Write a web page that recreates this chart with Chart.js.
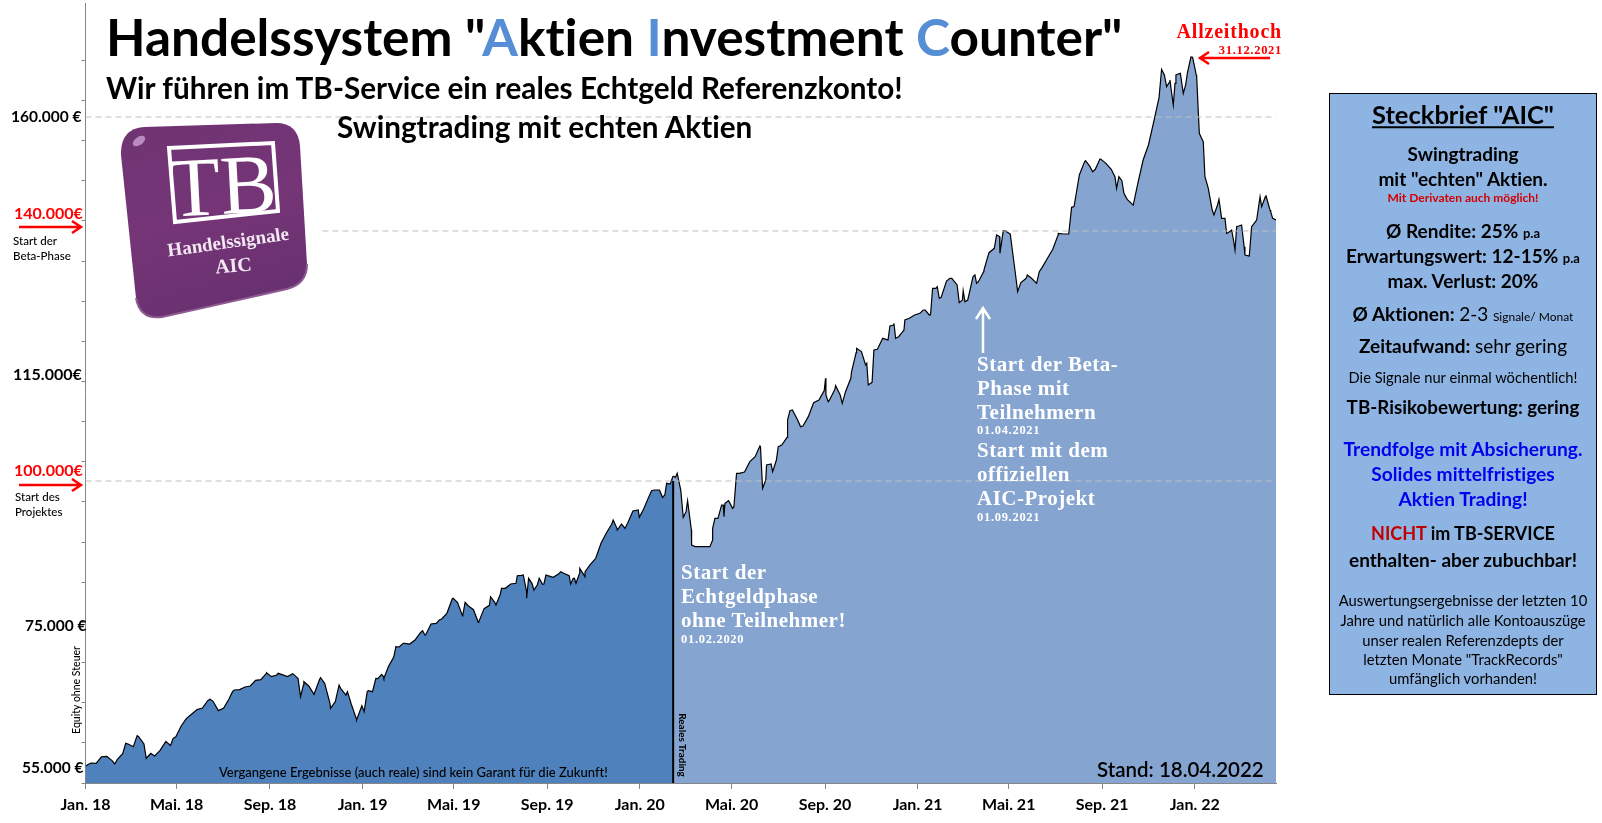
<!DOCTYPE html>
<html lang="de">
<head>
<meta charset="utf-8">
<title>Handelssystem AIC</title>
<script src="https://cdn.jsdelivr.net/npm/chart.js@4"></script>
<style>
  html, body { margin: 0; padding: 0; background: #fff; overflow: hidden; }
  #wrap { position: relative; width: 1602px; height: 823px; font-family: Lato, sans-serif; color: #000; font-variant-ligatures: none; }
  #chart { position: absolute; left: 0; top: 0; }
  .t { position: absolute; white-space: nowrap; transform: translateY(-50%); line-height: 1; }
  .b { font-weight: 700; }
  .c { transform: translate(-50%, -50%); left: 1463px; }
  .s { font-family: "Liberation Serif", serif; font-weight: 700; color: #fff; font-size: 21px; letter-spacing: 0.5px; }
  .d { font-size: 12.5px; letter-spacing: 0.7px; }
  .blue { color: #558ED5; }
  .red { color: #ff0000; }
  #panel { position: absolute; left: 1329px; top: 93px; width: 266px; height: 600px; background: #8EB4E3; border: 1.5px solid #000; }
  svg { position: absolute; left: 0; top: 0; }
</style>
</head>
<body>
<div id="wrap">
  <canvas id="chart" width="1602" height="823"></canvas>

  <!-- logo -->
  <svg width="1602" height="823" style="pointer-events:none">
    <defs>
      <linearGradient id="lg" x1="0" y1="0" x2="0.3" y2="1">
        <stop offset="0" stop-color="#6F3472"/>
        <stop offset="0.55" stop-color="#753577"/>
        <stop offset="1" stop-color="#6A3170"/>
      </linearGradient>
    </defs>
    <path d="M144 127 L276 123 Q298 123 300 146 L307 264 Q307 284 287 289 L162 317 Q140 320 136 298 L121 155 Q120 129 144 127 Z" fill="url(#lg)"/>
    <path d="M136 298 Q140 320 162 317 L287 289 Q307 284 307 264" fill="none" stroke="#8E5A92" stroke-width="2"/>
    <ellipse cx="139" cy="141" rx="7" ry="4" fill="#B98BC0" transform="rotate(-35 139 141)"/>
    <path d="M169 148 L273 143 L278 211 L175 222 Z" fill="none" stroke="#fff" stroke-width="4"/>
    <text x="224" y="214" text-anchor="middle" font-family="Liberation Serif" font-size="84" fill="#fff" transform="rotate(-3 224 214)">TB</text>
    <text x="229" y="248" text-anchor="middle" font-family="Liberation Serif" font-weight="700" font-size="19" fill="#F2E8F2" transform="rotate(-8 229 248)">Handelssignale</text>
    <text x="234" y="272" text-anchor="middle" font-family="Liberation Serif" font-weight="700" font-size="20" fill="#F2E8F2" transform="rotate(-5 234 272)">AIC</text>
    <!-- annotation arrows -->
    <g stroke="#ff0000" stroke-width="2.5" fill="none">
      <path d="M19 227 H80 M72 221 L81 227 L72 233"/>
      <path d="M19 485 H80 M72 479 L81 485 L72 491"/>
      <path d="M1270 58 H1201 M1209 52 L1200 58 L1209 64"/>
    </g>
    <path d="M983 353 V308 M976 319 L983 308 L990 319" stroke="#fff" stroke-width="2.5" fill="none"/>
  </svg>

  <!-- headline -->
  <div class="t b" style="left:106px;top:37px;font-size:51.4px">Handelssystem "<span class="blue">A</span>ktien <span class="blue">I</span>nvestment <span class="blue">C</span>ounter"</div>
  <div class="t b" style="left:106px;top:88px;font-size:29.7px">Wir führen im TB-Service ein reales Echtgeld Referenzkonto!</div>
  <div class="t b" style="left:337px;top:127px;font-size:29.7px">Swingtrading mit echten Aktien</div>

  <!-- value labels at the axis -->
  <div class="t b" style="left:11px;top:117px;font-size:15.5px">160.000 €</div>
  <div class="t b red" style="left:14px;top:213px;font-size:16px">140.000€</div>
  <div class="t" style="left:13px;top:241px;font-size:11.5px;font-weight:500">Start der</div>
  <div class="t" style="left:13px;top:256px;font-size:11.5px;font-weight:500">Beta-Phase</div>
  <div class="t b" style="left:13px;top:374px;font-size:16px">115.000€</div>
  <div class="t b red" style="left:14px;top:470px;font-size:16px">100.000€</div>
  <div class="t" style="left:15px;top:497px;font-size:11.5px;font-weight:500">Start des</div>
  <div class="t" style="left:15px;top:512px;font-size:11.5px;font-weight:500">Projektes</div>
  <div class="t b" style="left:25px;top:626px;font-size:15.5px">75.000 €</div>
  <div class="t b" style="left:22px;top:768px;font-size:15.5px">55.000 €</div>
  <div class="t" style="left:76px;top:690px;font-size:10.5px;font-weight:500;transform:translate(-50%,-50%) rotate(-90deg)">Equity ohne Steuer</div>

  <!-- texts inside the area -->
  <div class="t" style="left:219px;top:772px;font-size:13px;font-weight:500">Vergangene Ergebnisse (auch reale) sind kein Garant für die Zukunft!</div>
  <div class="t b" style="left:683px;top:745px;font-size:10px;transform:translate(-50%,-50%) rotate(90deg)">Reales Trading</div>
  <div class="t" style="left:1097px;top:769px;font-size:20.5px;font-weight:600">Stand: 18.04.2022</div>

  <div class="t s" style="left:681px;top:572px">Start der</div>
  <div class="t s" style="left:681px;top:596px">Echtgeldphase</div>
  <div class="t s" style="left:681px;top:620px">ohne Teilnehmer!</div>
  <div class="t s d" style="left:681px;top:639px">01.02.2020</div>

  <div class="t s" style="left:977px;top:364px">Start der Beta-</div>
  <div class="t s" style="left:977px;top:388px">Phase mit</div>
  <div class="t s" style="left:977px;top:412px">Teilnehmern</div>
  <div class="t s d" style="left:977px;top:430px">01.04.2021</div>
  <div class="t s" style="left:977px;top:450px">Start mit dem</div>
  <div class="t s" style="left:977px;top:474px">offiziellen</div>
  <div class="t s" style="left:977px;top:498px">AIC-Projekt</div>
  <div class="t s d" style="left:977px;top:517px">01.09.2021</div>

  <div class="t s red" style="right:320px;top:31px;font-size:20px;letter-spacing:0.8px;color:#f00">Allzeithoch</div>
  <div class="t s d" style="right:320px;top:50px;color:#f00">31.12.2021</div>

  <!-- Steckbrief -->
  <div id="panel"></div>
  <div class="t b c" style="top:115px;font-size:25.5px;text-decoration:underline">Steckbrief "AIC"</div>
  <div class="t b c" style="top:153px;font-size:19px">Swingtrading</div>
  <div class="t b c" style="top:178px;font-size:19px">mit "echten" Aktien.</div>
  <div class="t b c" style="top:198px;font-size:12px;color:#D40000">Mit Derivaten auch möglich!</div>
  <div class="t b c" style="top:230px;font-size:19px">Ø Rendite: 25% <span style="font-size:13px">p.a</span></div>
  <div class="t b c" style="top:255px;font-size:19px">Erwartungswert: 12-15% <span style="font-size:13px">p.a</span></div>
  <div class="t b c" style="top:280px;font-size:19px">max. Verlust: 20%</div>
  <div class="t b c" style="top:313px;font-size:19px">Ø Aktionen: <span style="font-weight:400">2-3</span> <span style="font-size:12px;font-weight:400">Signale/ Monat</span></div>
  <div class="t b c" style="top:345px;font-size:19px">Zeitaufwand: <span style="font-weight:400">sehr gering</span></div>
  <div class="t c" style="top:377px;font-size:14.7px">Die Signale nur einmal wöchentlich!</div>
  <div class="t b c" style="top:407px;font-size:18.8px">TB-Risikobewertung: gering</div>
  <div class="t b c" style="top:449px;font-size:19.2px;color:#0000EE">Trendfolge mit Absicherung.</div>
  <div class="t b c" style="top:474px;font-size:19.2px;color:#0000EE">Solides mittelfristiges</div>
  <div class="t b c" style="top:499px;font-size:19.2px;color:#0000EE">Aktien Trading!</div>
  <div class="t b c" style="top:533px;font-size:18px"><span style="color:#C00000">NICHT</span> im TB-SERVICE</div>
  <div class="t b c" style="top:559px;font-size:19px">enthalten- aber zubuchbar!</div>
  <div class="t c" style="top:600px;font-size:14.8px">Auswertungsergebnisse der letzten 10</div>
  <div class="t c" style="top:620px;font-size:14.8px">Jahre und natürlich alle Kontoauszüge</div>
  <div class="t c" style="top:640px;font-size:14.8px">unser realen Referenzdepts der</div>
  <div class="t c" style="top:659px;font-size:14.8px">letzten Monate "TrackRecords"</div>
  <div class="t c" style="top:678px;font-size:14.8px">umfänglich vorhanden!</div>
</div>

<script>
// x axis: days since 01.01.2018
var xTickDays = [0, 120, 243, 365, 485, 608, 730, 851, 974, 1096, 1216, 1339, 1461];
var xTickLabels = ['Jan. 18', 'Mai. 18', 'Sep. 18', 'Jan. 19', 'Mai. 19', 'Sep. 19', 'Jan. 20',
    'Mai. 20', 'Sep. 20', 'Jan. 21', 'Mai. 21', 'Sep. 21', 'Jan. 22'];

// equity in euro, one value per week
var weeklyEquity = [
    54720, 55200, 55150, 56200, 56270, 55580, 55800, 56700, 58240, 57800,
    59400, 58240, 56480, 56320, 57180, 58500, 58000, 59400, 61120, 62350,
    63040, 63740, 64000, 65180, 65070, 63580, 64000, 65440, 66880, 66940,
    67360, 67520, 68430, 68540, 69500, 69020, 69280, 69340, 69020, 69500,
    68700, 67680, 67520, 66190, 68480, 67950, 64750, 65020, 67150, 66080,
    64640, 62190, 64370, 66610, 66610, 68700, 69120, 70620, 72160, 73760,
    74350, 74240, 74880, 76050, 75680, 77440, 77550, 78240, 79150, 81440,
    80860, 78880, 80370, 79730, 77800, 79900, 80430, 80910, 82080, 83150,
    83840, 83950, 85230, 82610, 83950, 83680, 83790, 85170, 84910, 85440,
    85550, 85170, 84750, 85650, 85810, 86990, 87950, 90350, 92000, 93390,
    92750, 93280, 93550, 95520, 95680, 95790, 97820, 98880, 98880, 98080,
    99840, 100900, 98880, 95410, 92480, 89820, 89820, 89820, 90880, 94350,
    96480, 97170, 96210, 101550, 101760, 103410, 104210, 105810, 100480, 103040,
    103680, 106080, 107310, 111680, 110080, 109120, 110620, 112850, 113280, 114780,
    113280, 114990, 114080, 114610, 116750, 120860, 121020, 119150, 116110, 121390,
    123150, 122880, 125280, 123410, 124480, 126350, 126880, 127150, 127680, 126930,
    131150, 129700, 132320, 132750, 131680, 129280, 129280, 133020, 132210, 133810,
    136850, 137550, 139410, 140380, 139840, 133280, 132060, 132750, 132750, 131950,
    134510, 135950, 137390, 139680, 139840, 139840, 144220, 149280, 151420, 150610,
    150190, 151840, 151150, 150190, 147150, 148380, 145390, 144590, 147950, 151680,
    154080, 157815, 161700, 165280, 164200, 163950, 165550, 163680, 168160, 165280,
    155150, 147950, 143680, 144480, 142350, 140050, 138880, 141120, 137820, 136320,
    141650, 145810, 145810, 143410, 142080
];

// peaks and dips between the weekly values, also
var swingDays = [
    38.6, 53, 68, 80, 86, 106, 115.4, 164, 193.6, 238.4, 253.8, 283.2, 287.6, 309.5, 322.7, 334, 345, 357, 382.4,
    367, 372.4, 390, 393, 408.8, 418.5, 444, 447, 466, 484.3, 496.6, 500, 517.3, 533.5, 540.6, 548, 568.7, 576.6,
    581, 583.6, 590.6, 597.6, 603.8, 606.4, 626, 639, 642.4, 646, 651, 657.8, 695, 700.4, 706, 710.5, 729.4,
    745.6, 760, 765.4, 774, 779.3, 787.3, 793, 798.3, 802.7, 822.4, 826, 829, 837.8, 840.9, 842.2, 852.3, 857.5,
    888.3, 891.8, 897, 905, 912.4, 924.7, 927.8, 941.8, 974.7, 975.2, 978.2, 988, 996.7, 1009, 1015.6, 1027.4,
    1031, 1038.4, 1059.5, 1064.8, 1067, 1079.2, 1103.4, 1111.3, 1115.7, 1121.8, 1124.5, 1138.5, 1150.8, 1156,
    1158.3, 1171.5, 1173.6, 1183.3, 1200, 1204.4, 1208.8, 1227.7, 1240.4, 1252.7, 1256.2, 1281.2, 1298.8, 1303.2,
    1317.2, 1326.5, 1336.1, 1355.9, 1358, 1361.1, 1367.7, 1380, 1417.3, 1423.9, 1428.3, 1432.7, 1436.2, 1442.4,
    1445.9, 1451.2, 1458.2, 1463.5, 1467, 1472.2, 1474.4, 1478.8, 1486.3, 1492.9, 1496.4, 1500.8, 1503, 1509.6,
    1514, 1516.2, 1522.7, 1527.1, 1532.8, 1535.9, 1542.5, 1547, 1549.1, 1554.9, 1560.1, 1563.6
];
var swingValues = [
    55040, 58350, 59580, 55950, 56750, 58620, 59150, 65390, 66620, 69650, 69550, 65810, 68210, 68860, 63950, 67680, 66610, 62080, 68750,
    63420, 66780, 69390, 68750, 73810, 74350, 76370, 75680, 78080, 81550, 78720, 80910, 77710, 81810, 80480, 83150, 85170, 85280,
    81550, 84750, 82880, 84750, 83840, 85280, 85810, 83840, 84750, 83950, 86350, 85010, 94080, 92480, 93440, 92750, 94510,
    98770, 97710, 99950, 101120, 101550, 94510, 97170, 90080, 89820, 89820, 92750, 94350, 96480, 94610, 96750, 95950, 101550,
    105920, 99150, 102880, 101810, 105810, 110080, 111570, 109010, 116750, 114080, 113010, 115580, 112750, 117810, 121550, 118880,
    115680, 121280, 125120, 125550, 123150, 126080, 127680, 126880, 131150, 131410, 129550, 132750, 128850, 130770,
    129010, 133280, 131950, 134080, 139680, 136750, 140380, 130620, 133280, 131950, 133820, 139950, 144110, 144220,
    151570, 149810, 151840, 149010, 147150, 149010, 146350, 144480, 166190, 163410, 164480, 160480, 165280, 165550,
    162350, 165550, 168110, 165010, 155950, 154610, 149010, 147150, 142880, 145390, 142350, 142350, 139950, 140480,
    137280, 141010, 141280, 136480, 136320, 141010, 142080, 145810, 144220, 145920, 143680, 142350
];

// dashed levels and where each one begins
var levelValues = [158560, 140320, 100320];
var levelStartDays = [0, 312, 0];

// the day the real trading starts
var realTradingDay = 774;
var realTradingTop = 100320;

var lastDay = (weeklyEquity.length - 1) * 7;
var yMin = 52000, yMax = 176800, yTickStep = 6424;

var points = weeklyEquity.map(function(v, i) {
    return { x: i * 7, y: v };
}).concat(swingDays.map(function(d, i) {
    return { x: d, y: swingValues[i] };
})).sort(function(a, b) {
    return a.x - b.x;
});

var datasets = [{
    data: points.filter(function(p) { return p.x <= realTradingDay; }),
    borderColor: '#000',
    borderWidth: 1.2,
    backgroundColor: '#4F81BD',
    fill: 'start',
    order: 3
}, {
    data: points.filter(function(p) { return p.x >= realTradingDay; }),
    borderColor: '#000',
    borderWidth: 1.2,
    backgroundColor: '#85A5D0',
    fill: 'start',
    order: 3
}, {
    data: [{ x: realTradingDay, y: yMin }, { x: realTradingDay, y: realTradingTop }],
    borderColor: '#000',
    borderWidth: 2,
    fill: false,
    order: 1
}];

levelValues.forEach(function(v, i) {
    datasets.push({
        data: [{ x: levelStartDays[i], y: v }, { x: lastDay, y: v }],
        borderColor: '#BFBFBF',
        borderWidth: 1,
        borderDash: [6, 4],
        fill: false,
        order: 2
    });
});

new Chart(document.getElementById('chart'), {
    type: 'line',
    data: { datasets: datasets },
    options: {
        responsive: false,
        animation: false,
        devicePixelRatio: 1,
        layout: { padding: { top: 3, right: 326, left: 0, bottom: 0 } },
        elements: { point: { radius: 0 }, line: { tension: 0 } },
        plugins: { legend: { display: false }, tooltip: { enabled: false } },
        scales: {
            x: {
                type: 'linear',
                min: 0,
                max: lastDay,
                afterFit: function(axis) { axis.height = 40; },
                afterBuildTicks: function(axis) {
                    axis.ticks = xTickDays.map(function(d) { return { value: d }; });
                },
                border: { color: '#868686' },
                grid: { drawOnChartArea: false, tickColor: '#868686', tickLength: 6 },
                ticks: {
                    autoSkip: false,
                    maxRotation: 0,
                    padding: 6,
                    color: '#000',
                    font: { family: 'Lato', weight: 'bold', size: 16 },
                    callback: function(v, i) { return xTickLabels[i]; }
                }
            },
            y: {
                min: yMin,
                max: yMax,
                afterFit: function(axis) { axis.width = 85.5; },
                afterBuildTicks: function(axis) {
                    var list = [];
                    for (var v = yMin; v < yMax - yTickStep / 2; v += yTickStep) {
                        list.push({ value: v });
                    }
                    axis.ticks = list;
                },
                border: { color: '#868686' },
                grid: { drawOnChartArea: false, tickColor: '#868686', tickLength: 4 },
                ticks: { display: false }
            }
        }
    }
});
</script>
</body>
</html>
